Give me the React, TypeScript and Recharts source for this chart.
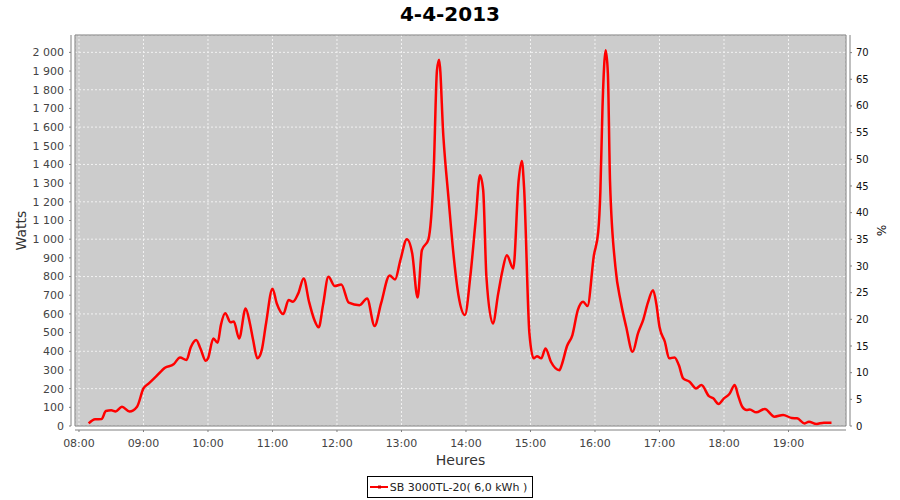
import React from "react";
import {
  CartesianGrid,
  Legend,
  Line,
  LineChart,
  ReferenceArea,
  XAxis,
  YAxis,
} from "recharts";

const FONT = "'DejaVu Sans', Verdana, sans-serif";

// readings of the inverter, time of day and power in watts
const times = [
  "08:09", "08:15", "08:21", "08:25", "08:30", "08:34", "08:40", "08:47", "08:54", "09:00",
  "09:05", "09:12", "09:20", "09:28", "09:34", "09:40", "09:44", "09:49", "09:53", "09:58",
  "10:00", "10:05", "10:09", "10:12", "10:16", "10:21", "10:24", "10:29", "10:35", "10:39",
  "10:42", "10:46", "10:50", "10:54", "11:00", "11:04", "11:10", "11:15", "11:19", "11:24",
  "11:29", "11:34", "11:39", "11:43", "11:47", "11:52", "11:58", "12:04", "12:11", "12:21",
  "12:28", "12:35", "12:41", "12:49", "12:54", "12:59", "13:05", "13:10", "13:15", "13:19",
  "13:25", "13:30", "13:33", "13:35", "13:39", "13:44", "13:48", "13:53", "13:59", "14:04",
  "14:09", "14:13", "14:16", "14:19", "14:25", "14:30", "14:34", "14:38", "14:44", "14:49",
  "14:52", "14:54", "14:59", "15:03", "15:06", "15:10", "15:14", "15:19", "15:27", "15:29",
  "15:34", "15:39", "15:44", "15:49", "15:53", "15:59", "16:03", "16:05", "16:07", "16:10",
  "16:12", "16:14", "16:19", "16:24", "16:29", "16:35", "16:40", "16:45", "16:49", "16:54",
  "16:57", "17:00", "17:05", "17:09", "17:14", "17:18", "17:22", "17:28", "17:34", "17:39",
  "17:46", "17:50", "17:55", "18:00", "18:05", "18:10", "18:13", "18:17", "18:21", "18:24",
  "18:30", "18:38", "18:47", "18:55", "19:03", "19:08", "19:15", "19:19", "19:26", "19:33",
  "19:40",
];

const watts = [
  14, 36, 37, 80, 84, 78, 103, 77, 103, 201,
  228, 267, 312, 330, 367, 353, 421, 460, 415, 349,
  362, 469, 445, 540, 603, 555, 560, 469, 629, 549,
  460, 362, 406, 549, 735, 656, 599, 674, 665, 710,
  790, 665, 567, 528, 647, 799, 749, 758, 660, 647,
  683, 535, 656, 806, 784, 888, 1000, 923, 688, 941,
  998, 1369, 1904, 1961, 1547, 1203, 941, 700, 594, 799,
  1102, 1342, 1262, 799, 549, 710, 834, 914, 843, 1316,
  1419, 1280, 496, 362, 374, 362, 415, 344, 299, 326,
  428, 487, 620, 665, 642, 914, 1039, 1253, 1708, 2011,
  1886, 1307, 852, 665, 531, 397, 496, 571, 656, 727,
  656, 531, 451, 362, 367, 326, 255, 237, 201, 219,
  160, 148, 118, 148, 171, 219, 166, 103, 86, 88,
  73, 91, 50, 59, 43, 41, 14, 23, 11, 18,
  18,
];

const hourTicks = [
  "08:00", "09:00", "10:00", "11:00", "12:00", "13:00",
  "14:00", "15:00", "16:00", "17:00", "18:00", "19:00",
];
const wattTicks = [
  0, 100, 200, 300, 400, 500, 600, 700, 800, 900, 1000,
  1100, 1200, 1300, 1400, 1500, 1600, 1700, 1800, 1900, 2000,
];
const pctTicks = [0, 5, 10, 15, 20, 25, 30, 35, 40, 45, 50, 55, 60, 65, 70];

const seriesName = "SB 3000TL-20( 6,0 kWh )";

const toMin = (s: string) => Number(s.slice(0, 2)) * 60 + Number(s.slice(3));
const fmtTime = (m: number) =>
  `${String(Math.floor(m / 60)).padStart(2, "0")}:${String(m % 60).padStart(2, "0")}`;
const fmtWatt = (v: number) =>
  v >= 1000 ? `${Math.floor(v / 1000)} ${String(v % 1000).padStart(3, "0")}` : String(v);

const data = times.map((t, i) => ({ t: toMin(t), w: watts[i] }));

const X_DOMAIN: [number, number] = [476.3, 1193.5];
const W_DOMAIN: [number, number] = [0, 2093];

const axisGray = "#808080";

function LegendBox() {
  return (
    <div style={{ display: "flex", justifyContent: "center" }}>
      <div
        style={{
          border: "1px solid #000",
          height: 22,
          boxSizing: "border-box",
          display: "flex",
          alignItems: "center",
          padding: "0 5px 0 2px",
          fontFamily: FONT,
          fontSize: 11,
          color: "#222",
          background: "#fff",
        }}
      >
        <svg width={18} height={6} style={{ marginRight: 2 }}>
          <line x1={0} y1={3} x2={18} y2={3} stroke="#ff0000" strokeWidth={2} />
          <rect x={8} y={1.5} width={3} height={3} fill="#cc0000" />
        </svg>
        <span>{seriesName}</span>
      </div>
    </div>
  );
}

export default function App() {
  return (
    <div
      style={{
        position: "absolute",
        left: 0,
        top: 0,
        width: 900,
        height: 500,
        background: "#fff",
      }}
    >
      <div
        style={{
          position: "absolute",
          left: 0,
          top: 2,
          width: 900,
          textAlign: "center",
          fontFamily: FONT,
          fontWeight: "bold",
          fontSize: 20,
          color: "#000",
          lineHeight: "24px",
        }}
      >
        4-4-2013
      </div>
      <LineChart
        width={900}
        height={500}
        data={data}
        margin={{ top: 35, right: 14, bottom: 2, left: 25 }}
      >
        <CartesianGrid
          yAxisId="w"
          fill="#cccccc"
          stroke="#f2f2f2"
          strokeDasharray="2 2"
        />
        <ReferenceArea
          yAxisId="w"
          x1={X_DOMAIN[0]}
          x2={X_DOMAIN[1]}
          y1={W_DOMAIN[0]}
          y2={W_DOMAIN[1]}
          fill="none"
          stroke={axisGray}
          strokeWidth={1}
        />
        <XAxis
          dataKey="t"
          type="number"
          domain={X_DOMAIN}
          ticks={hourTicks.map(toMin)}
          tickFormatter={fmtTime}
          allowDataOverflow
          height={50}
          tickSize={2}
          tickMargin={11}
          axisLine={{ stroke: axisGray, transform: "translate(0,4)" }}
          tickLine={{ stroke: axisGray, transform: "translate(0,4)" }}
          tick={{ fill: "#444", fontSize: 11, fontFamily: FONT }}
          label={(p: any) => (
            <text
              x={p.viewBox.x + p.viewBox.width / 2}
              y={p.viewBox.y + 39}
              textAnchor="middle"
              fontFamily={FONT}
              fontSize={14}
              fill="#333"
            >
              Heures
            </text>
          )}
        />
        <YAxis
          yAxisId="w"
          type="number"
          domain={W_DOMAIN}
          ticks={wattTicks}
          tickFormatter={fmtWatt}
          allowDataOverflow
          width={50}
          tickSize={2}
          tickMargin={9}
          axisLine={{ stroke: axisGray, transform: "translate(-4,0)" }}
          tickLine={{ stroke: axisGray, transform: "translate(-4,0)" }}
          tick={{ fill: "#444", fontSize: 11, fontFamily: FONT }}
          label={(p: any) => {
            const cx = p.viewBox.x + 1;
            const cy = p.viewBox.y + p.viewBox.height / 2;
            return (
              <text
                x={cx}
                y={cy}
                transform={`rotate(-90, ${cx}, ${cy})`}
                textAnchor="middle"
                fontFamily={FONT}
                fontSize={14}
                fill="#333"
              >
                Watts
              </text>
            );
          }}
        />
        <YAxis
          yAxisId="p"
          orientation="right"
          type="number"
          domain={[0, 73.3]}
          ticks={pctTicks}
          allowDataOverflow
          width={40}
          tickSize={2}
          tickMargin={8}
          axisLine={{ stroke: axisGray, transform: "translate(4,0)" }}
          tickLine={{ stroke: axisGray, transform: "translate(4,0)" }}
          tick={{ fill: "#111", fontSize: 10, fontFamily: FONT }}
          label={(p: any) => {
            const cx = p.viewBox.x + 31;
            const cy = p.viewBox.y + p.viewBox.height / 2;
            return (
              <text
                x={cx}
                y={cy}
                transform={`rotate(90, ${cx}, ${cy})`}
                textAnchor="middle"
                fontFamily={FONT}
                fontSize={12}
                fill="#111"
              >
                %
              </text>
            );
          }}
        />
        <Legend
          verticalAlign="bottom"
          wrapperStyle={{ left: 0, width: 900 }}
          content={() => <LegendBox />}
        />
        <Line
          yAxisId="w"
          dataKey="w"
          name={seriesName}
          type="monotone"
          stroke="#ff0000"
          strokeWidth={2.5}
          strokeLinejoin="round"
          dot={false}
          isAnimationActive={false}
        />
      </LineChart>
    </div>
  );
}
